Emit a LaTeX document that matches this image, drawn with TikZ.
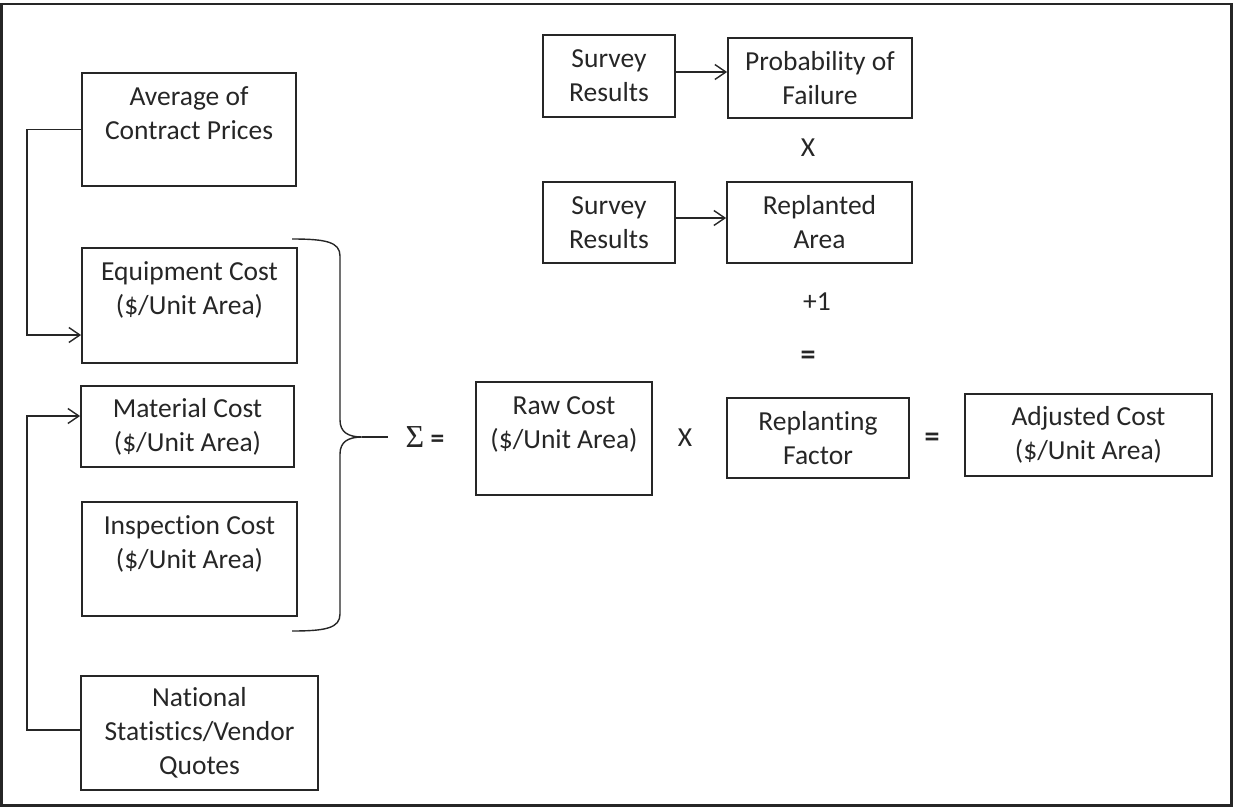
\documentclass[tikz,border=0pt]{standalone}
\usepackage{fontspec}
\setmainfont{Carlito}[Ligatures=NoCommon]
\newfontfamily\greekfont{Liberation Serif}
\usetikzlibrary{arrows.meta}
\pgfdeclarelayer{edgelayer}
\pgfdeclarelayer{nodelayer}
\pgfsetlayers{edgelayer,nodelayer,main}
\definecolor{ink}{HTML}{262626}
\tikzset{font=\fontsize{27.5}{34}\selectfont}
\tikzstyle{none}=[inner sep=0pt, align=center, text=ink]
\tikzstyle{box}=[draw=ink, line width=1.8pt, inner sep=0pt, align=center, text=ink]
\tikzstyle{link}=[draw=ink, line width=1.4pt, -{Straight Barb[length=11pt,width=15pt,line width=1.4pt]}]
\tikzstyle{brace}=[draw=ink, line width=1.4pt]

\begin{document}
\begin{tikzpicture}[x=1pt, y=-1pt]
	\useasboundingbox (0,0) rectangle (1233,808);
	\begin{pgfonlayer}{nodelayer}
		\node [style=box, minimum width=214, minimum height=113] (0) at (189, 129.5) {};
		\node [style=none] (1) at (189, 113.5) {Average of\\Contract Prices};
		\node [style=box, minimum width=215, minimum height=115] (2) at (189.5, 305.5) {};
		\node [style=none] (3) at (189.5, 290) {Equipment Cost\\(\$/Unit Area)};
		\node [style=box, minimum width=213, minimum height=81] (4) at (187.5, 426.5) {Material Cost\\(\$/Unit Area)};
		\node [style=box, minimum width=215, minimum height=114] (5) at (189.5, 559) {};
		\node [style=none] (6) at (189.5, 543.5) {Inspection Cost\\(\$/Unit Area)};
		\node [style=box, minimum width=237, minimum height=114] (7) at (199.5, 733) {National\\Statistics/Vendor\\Quotes};
		\node [style=box, minimum width=132, minimum height=82] (8) at (609, 76) {Survey\\Results};
		\node [style=box, minimum width=184, minimum height=80] (9) at (820, 78) {Probability of\\Failure};
		\node [style=none] (10) at (808, 148) {X};
		\node [style=box, minimum width=132, minimum height=81] (11) at (609, 222.5) {Survey\\Results};
		\node [style=box, minimum width=185, minimum height=81] (12) at (819.5, 222.5) {Replanted\\Area};
		\node [style=none] (13) at (817, 302) {+1};
		\node [style=none, font=\fontsize{30}{34}\selectfont\bfseries] (14) at (808, 358) {=};
		\node [style=none] (15) at (425, 437) {{\greekfont\fontsize{32}{34}\selectfont Σ} {\bfseries =}};
		\node [style=box, minimum width=176, minimum height=113] (16) at (564, 438.5) {};
		\node [style=none] (17) at (564, 424.5) {Raw Cost\\(\$/Unit Area)};
		\node [style=none] (18) at (685, 438) {X};
		\node [style=box, minimum width=182, minimum height=80] (19) at (818, 438) {Replanting\\Factor};
		\node [style=none, font=\fontsize{30}{34}\selectfont\bfseries] (20) at (932, 440) {=};
		\node [style=box, minimum width=247, minimum height=82] (21) at (1088.5, 435) {Adjusted Cost\\(\$/Unit Area)};
	\end{pgfonlayer}
	\begin{pgfonlayer}{edgelayer}
		\draw [draw=ink, line width=2.5pt] (1.5, 4) rectangle (1231.5, 805.5);
		\draw [style=link] (0.west) -- ++(-54, 0) |- ([yshift=-29.5pt]2.west);
		\draw [style=link] ([yshift=3pt]7.west) -- ++(-53, 0) |- ([yshift=10.5pt]4.west);
		\draw [style=link] ([yshift=4pt]8.east) to ([yshift=6pt]9.west);
		\draw [style=link] ([yshift=4.5pt]11.east) to ([yshift=4.5pt]12.west);
		\draw [style=brace] (292, 239) .. controls (326, 239) and (340, 242) .. (340, 256) -- (340, 420) .. controls (340, 432) and (348, 437) .. (362, 437) .. controls (348, 437) and (340, 442) .. (340, 454) -- (340, 614) .. controls (340, 628) and (326, 631) .. (292, 631);
		\draw [style=brace] (362, 437) -- (388, 437);
	\end{pgfonlayer}
\end{tikzpicture}
\end{document}
